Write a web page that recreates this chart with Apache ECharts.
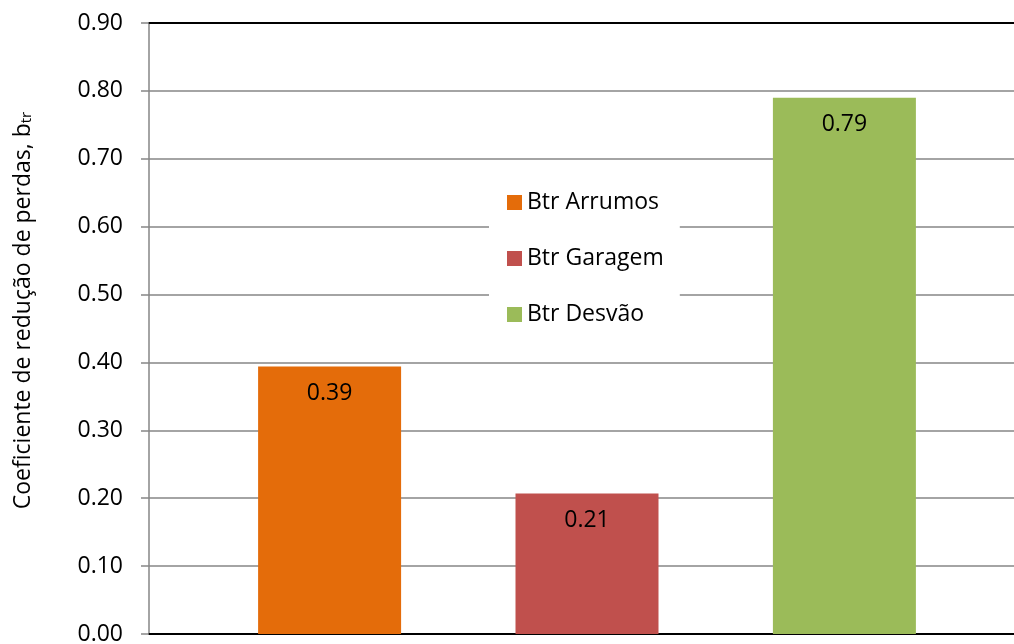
<!DOCTYPE html>
<html><head><meta charset="utf-8">
<script src="https://cdn.jsdelivr.net/npm/echarts@6/dist/echarts.min.js"></script>
<style>html,body{margin:0;padding:0;background:#fff}#c{width:1014px;height:644px}</style>
</head><body><div id="c"></div>
<script>
const categories = [''];
const seriesNames = ['Btr Arrumos', 'Btr Garagem', 'Btr Desvão'];
const seriesValues = [0.394, 0.207, 0.790];
const seriesColors = ['#E46C0A', '#C0504D', '#9BBB59'];
const yTicks = [0, 0.1, 0.2, 0.3, 0.4, 0.5, 0.6, 0.7, 0.8, 0.9];

const FONT = '"Open Sans", sans-serif';
const chart = echarts.init(document.getElementById('c'));
chart.setOption({
  animation: false,
  textStyle: { fontFamily: FONT },
  grid: { left: 149, right: -11, top: 23, bottom: 10, containLabel: false, outerBoundsMode: 'none' },
  legend: {
    orient: 'vertical', left: 489, top: 183,
    backgroundColor: '#fff', padding: [8, 16, 8, 18],
    itemWidth: 15, itemHeight: 15, itemGap: 33, icon: 'rect',
    textStyle: { fontSize: 23, color: '#000', fontFamily: FONT },
    data: seriesNames
  },
  xAxis: [{
    type: 'category', data: categories, position: 'bottom',
    axisLine: { lineStyle: { color: '#000', width: 2 } },
    axisTick: { show: false }, axisLabel: { show: false }
  }, {
    type: 'category', data: categories, position: 'top',
    axisLine: { lineStyle: { color: '#000', width: 2 } },
    axisTick: { show: false }, axisLabel: { show: false }
  }],
  yAxis: {
    type: 'value', min: 0, max: 0.9, interval: 0.1,
    name: '{a|Coeficiente de redução de perdas, b}{s|tr}',
    nameLocation: 'middle', nameGap: 114, nameRotate: 90,
    nameTextStyle: { padding: [0, 0, 0, 36], rich: {
      a: { fontSize: 23, color: '#000', fontFamily: FONT },
      s: { fontSize: 15, color: '#000', fontFamily: FONT, padding: [7, 0, 0, 0] }
    } },
    axisLine: { show: true, lineStyle: { color: '#868686', width: 1.5 } },
    axisTick: { show: true, inside: false, length: 8, lineStyle: { color: '#868686', width: 1.5 } },
    axisLabel: { fontSize: 23, color: '#000', margin: 26, fontFamily: FONT,
      formatter: v => v.toFixed(2) },
    splitLine: { lineStyle: { color: '#868686', width: 1.5 } }
  },
  series: seriesNames.map((n, i) => ({
    name: n, type: 'bar', data: [seriesValues[i]],
    barWidth: 143, barGap: '80%',
    itemStyle: { color: seriesColors[i] },
    label: { show: true, position: 'insideTop', distance: 15, fontSize: 23, color: '#000',
      fontFamily: FONT, formatter: p => p.value.toFixed(2) }
  }))
});
</script></body></html>
